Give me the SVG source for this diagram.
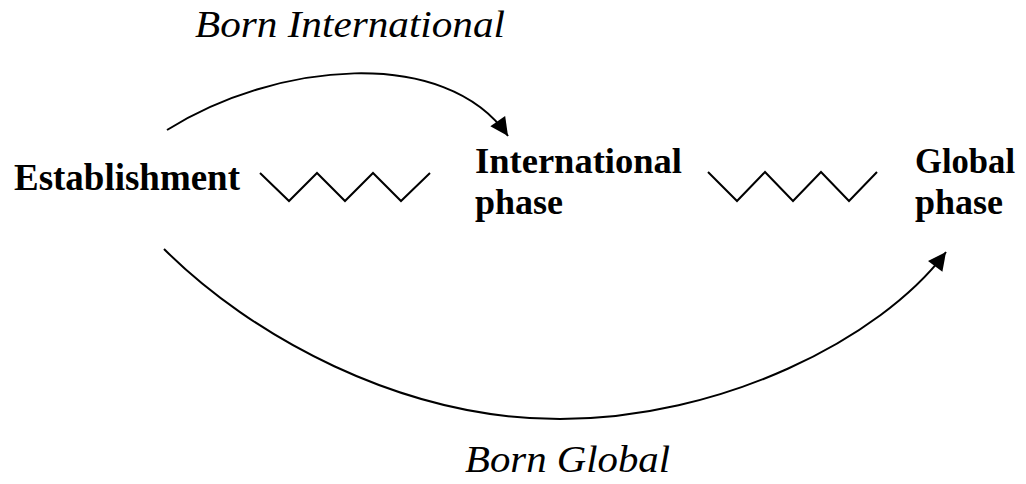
<svg xmlns="http://www.w3.org/2000/svg" width="1026" height="484" viewBox="0 0 1026 484">
  <style>
    .node { font-family: "Liberation Serif", "Times New Roman", serif; font-weight: bold; font-size: 37px; fill: #000; }
    .two { font-size: 36px; }
    .lbl { font-family: "Liberation Serif", "Times New Roman", serif; font-style: italic; font-size: 38px; fill: #000; }
    .conn { fill: none; stroke: #000; stroke-width: 2; }
    .zig { fill: none; stroke: #000; stroke-width: 2; stroke-linejoin: miter; }
  </style>
  <defs>
    <marker id="arrow" viewBox="-19 -10 20 20" markerWidth="20" markerHeight="20" refX="0" refY="0" orient="auto" markerUnits="userSpaceOnUse">
      <path d="M0,0 L-18,-9 L-18,9 Z" fill="#000"/>
    </marker>
  </defs>
  <rect width="1026" height="484" fill="#fff"/>

  <g id="establishment">
    <text class="node" x="14" y="190" textLength="226" lengthAdjust="spacingAndGlyphs">Establishment</text>
  </g>
  <g id="international-phase">
    <text class="node two" x="475" y="173" textLength="207" lengthAdjust="spacingAndGlyphs">International</text>
    <text class="node two" x="475" y="214" textLength="88" lengthAdjust="spacingAndGlyphs">phase</text>
  </g>
  <g id="global-phase">
    <text class="node two" x="915" y="173" textLength="100" lengthAdjust="spacingAndGlyphs">Global</text>
    <text class="node two" x="915" y="214" textLength="88" lengthAdjust="spacingAndGlyphs">phase</text>
  </g>

  <g id="connectors">
    <path class="conn" d="M167,130 C275,62 445,45 508,136" marker-end="url(#arrow)"/>
    <path class="conn" d="M164,249 C250,335 400,419 560,419 C720,419 880,340 946,252" marker-end="url(#arrow)"/>
    <polyline class="zig" points="260,173 289,201 317,173 345,201 373,173 401,201 430,173"/>
    <polyline class="zig" points="708,172 737,201 765,172 793,201 821,172 849,201 877,172"/>
  </g>

  <g id="labels">
    <text class="lbl" x="195" y="37" textLength="310" lengthAdjust="spacingAndGlyphs">Born International</text>
    <text class="lbl" x="465" y="472" font-size="40" textLength="205" lengthAdjust="spacingAndGlyphs">Born Global</text>
  </g>
</svg>
